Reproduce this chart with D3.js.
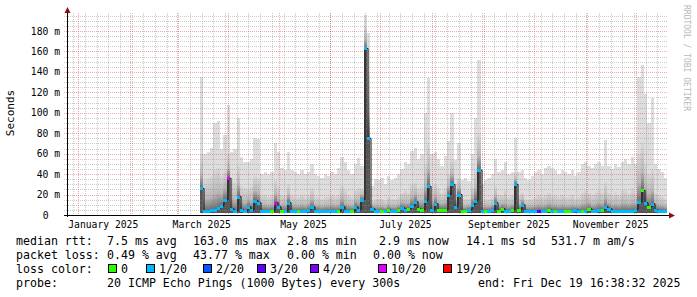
<!DOCTYPE html>
<html>
<head>
<meta charset="utf-8">
<script src="https://cdn.jsdelivr.net/npm/d3@7"></script>
<style>
body { margin: 0; background: #fff; }
svg text { font-family: "DejaVu Sans Mono", monospace; }
</style>
</head>
<body>
<svg width="697" height="297"></svg>
<script>
// smokeping style graph, last 360 days, one column = 2 days
const firstDay = new Date(Date.UTC(2025, 2, 15));
const stepDays = 2;

// median rtt (ms)
const med = [
  26,4,4,5,5,7,9,15,36,6,
  4,18,5,4,8,5,14,12,4,4,
  4,4,12,8,4,4,12,4,4,4,
  4,4,5,8,4,4,4,4,4,4,
  4,4,8,4,4,4,8,5,15,163,
  75,6,4,4,4,4,5,4,4,5,
  7,5,6,9,13,6,5,14,28,5,
  11,5,5,5,20,30,8,20,4,4,
  5,10,14,44,4,4,4,5,12,4,
  6,4,4,5,30,5,10,4,4,4,
  4,4,4,4,5,4,4,4,4,4,
  4,4,5,4,4,4,6,4,4,5,
  5,8,6,4,4,4,4,4,4,4,
  5,13,24,12,8,11,5,4,4,4
];
// upper edge of the dense smoke (ms)
const dense = [
  60,34,36,38,44,46,38,42,60,34,
  32,48,28,26,26,28,38,36,20,20,
  18,20,34,28,20,20,30,20,18,18,
  20,18,20,26,18,18,16,18,18,20,
  18,20,28,24,20,18,24,26,26,185,
  140,14,16,16,16,14,18,16,16,18,
  22,24,22,30,32,26,28,50,70,28,
  30,26,22,26,40,55,26,36,16,16,
  16,28,45,80,14,16,16,18,28,20,
  20,24,18,20,42,20,22,16,15,16,
  18,20,18,20,22,20,20,18,20,18,
  18,20,16,18,22,24,22,20,22,24,
  22,32,22,20,22,20,24,24,22,26,
  22,60,70,50,40,45,22,20,18,16
];
// slowest ping (ms)
const maxPing = [
  135,60,62,66,90,92,65,78,108,62,
  65,95,57,52,52,55,75,74,40,42,
  40,42,70,62,46,44,62,44,42,40,
  44,40,42,50,40,38,36,40,38,42,
  40,46,57,52,44,40,50,56,48,196,
  178,28,35,34,36,30,38,34,36,40,
  45,52,50,63,66,55,60,100,134,60,
  62,55,48,58,72,100,54,70,34,36,
  33,60,95,152,30,34,36,40,55,42,
  44,52,40,42,75,42,44,36,34,38,
  42,44,40,46,48,46,44,40,44,42,
  40,44,38,42,50,52,48,46,50,52,
  48,73,48,45,50,47,52,55,50,57,
  50,135,147,118,90,114,50,45,42,36
];
const minPing = 2;
// index into lossLabels
const loss = [
  1,1,1,1,1,1,1,1,5,1,
  1,1,1,1,1,1,1,1,1,1,
  1,0,5,1,0,1,1,1,1,0,
  1,1,1,1,1,1,1,1,1,1,
  1,0,1,1,1,0,1,1,1,1,
  1,1,1,1,0,1,0,1,1,0,
  1,1,0,1,1,0,0,1,1,1,
  1,0,0,0,1,1,1,1,0,0,
  1,1,1,1,1,0,1,1,1,0,
  0,1,1,0,1,0,1,1,1,1,
  1,3,1,1,0,1,0,1,1,0,
  0,1,1,1,0,1,0,1,1,1,
  0,1,1,1,1,1,1,1,1,1,
  1,1,0,1,0,1,1,1,1,1
];

const lossLabels = ["0", "1/20", "2/20", "3/20", "4/20", "10/20", "19/20"];
const lossColors = ["#26ff00", "#00b8ff", "#0059ff", "#5e00ff", "#7e00ff", "#dd00ff", "#ff0000"];

const rttStats = ["7.5 ms avg", "163.0 ms max", "2.8 ms min", "2.9 ms now", "14.1 ms sd", "531.7 m am/s"];
const lossStats = ["0.49 % avg", "43.77 % max", "0.00 % min", "0.00 % now"];
const probeText = "20 ICMP Echo Pings (1000 Bytes) every 300s";
const endText = "end: Fri Dec 19 16:38:32 2025";

const yTicks = d3.range(0, 181, 20);

const endTime = new Date(Date.UTC(2025, 11, 19, 16, 38, 32));
const startTime = d3.utcDay.offset(endTime, -360);

const svg = d3.select("svg");
const x = d3.scaleUtc().domain([startTime, endTime]).range([66, 667]);
const y = d3.scaleLinear().domain([0, 180]).range([215, 31]);
const plotTop = 13, plotRight = 667;

const days = med.map((v, i) => d3.utcDay.offset(firstDay, i * stepDays));
const colX = i => Math.round(x(days[i]));
const colW = i => Math.min(plotRight, Math.round(x(d3.utcDay.offset(days[i], stepDays)))) - colX(i);

const defs = svg.append("defs");
const grad = defs.append("linearGradient").attr("id", "smoke")
  .attr("x1", 0).attr("y1", 0).attr("x2", 0).attr("y2", 1);
grad.append("stop").attr("offset", "0%").attr("stop-color", "#d6d6d6");
grad.append("stop").attr("offset", "60%").attr("stop-color", "#b8b8b8");
grad.append("stop").attr("offset", "100%").attr("stop-color", "#6a6a6a");

// smoke
const smoke = svg.append("g").attr("shape-rendering", "crispEdges");
smoke.selectAll(".light").data(med).enter().append("rect")
  .attr("x", (d, i) => colX(i)).attr("width", (d, i) => colW(i))
  .attr("y", (d, i) => y(maxPing[i])).attr("height", (d, i) => y(minPing) - y(maxPing[i]))
  .attr("fill", "#dddddd");
smoke.selectAll(".dense").data(med).enter().append("rect")
  .attr("x", (d, i) => colX(i)).attr("width", (d, i) => colW(i))
  .attr("y", (d, i) => y(dense[i])).attr("height", (d, i) => y(d) - y(dense[i]))
  .attr("fill", "url(#smoke)");
smoke.selectAll(".low").data(med).enter().append("rect")
  .attr("x", (d, i) => colX(i)).attr("width", (d, i) => colW(i))
  .attr("y", d => y(d)).attr("height", d => Math.max(0, y(minPing) - y(d)))
  .attr("fill", "#555");

// grid
const grid = svg.append("g").attr("stroke-dasharray", "1,1").attr("fill", "none");
const weeks = d3.utcSunday.range(startTime, endTime);
const months = d3.utcMonth.range(startTime, endTime);
grid.selectAll(".wk").data(weeks).enter().append("line")
  .attr("x1", d => Math.round(x(d)) + 0.5).attr("x2", d => Math.round(x(d)) + 0.5)
  .attr("y1", plotTop).attr("y2", 217)
  .attr("stroke", "rgba(140,140,140,0.45)");
d3.range(5, 196, 5).filter(v => v % 20 !== 0).forEach(v => {
  grid.append("line").attr("x1", 64).attr("x2", plotRight)
    .attr("y1", Math.round(y(v)) + 0.5).attr("y2", Math.round(y(v)) + 0.5)
    .attr("stroke", "rgba(140,140,140,0.45)");
});
grid.selectAll(".mo").data(months).enter().append("line")
  .attr("x1", d => Math.round(x(d)) + 0.5).attr("x2", d => Math.round(x(d)) + 0.5)
  .attr("y1", plotTop).attr("y2", 217)
  .attr("stroke", "rgba(235,60,60,0.45)");
yTicks.filter(v => v > 0).forEach(v => {
  grid.append("line").attr("x1", 64).attr("x2", plotRight)
    .attr("y1", Math.round(y(v)) + 0.5).attr("y2", Math.round(y(v)) + 0.5)
    .attr("stroke", "rgba(235,60,60,0.45)");
});

// median line coloured by loss
const pts = med.map((v, i) => [colX(i) + 1, y(v)]);
pts.push([colX(med.length - 1) + colW(med.length - 1), y(med[med.length - 1])]);
svg.append("path").attr("d", d3.line().curve(d3.curveStepAfter)(pts))
  .attr("fill", "none").attr("stroke", "#111").attr("stroke-width", 1);
svg.append("g").attr("shape-rendering", "crispEdges")
  .selectAll("rect").data(med).enter().append("rect")
  .attr("x", (d, i) => colX(i)).attr("width", (d, i) => colW(i))
  .attr("y", d => Math.round(y(d)) - 1).attr("height", 3)
  .attr("fill", (d, i) => lossColors[loss[i]]);

// axes
svg.append("line").attr("x1", 67.5).attr("x2", 67.5).attr("y1", 217).attr("y2", 11)
  .attr("stroke", "#000");
svg.append("line").attr("x1", 64).attr("x2", 670).attr("y1", 215.5).attr("y2", 215.5)
  .attr("stroke", "#000");
svg.append("path").attr("d", "M67.5,7 L64.5,13 L70.5,13 Z").attr("fill", "#8b1010");
svg.append("path").attr("d", "M675,215.5 L669,212.5 L669,218.5 Z").attr("fill", "#8b1010");

svg.append("g").selectAll("text").data(yTicks).enter().append("text")
  .attr("x", d => d === 0 ? 48.5 : 60).attr("y", d => y(d) + 3.5)
  .attr("text-anchor", "end").attr("font-size", "9.7px").attr("fill", "#000")
  .text(d => d === 0 ? "0" : d + " m");

const labelMonths = d3.utcMonth.every(2).range(startTime, endTime);
svg.append("g").selectAll("text").data(labelMonths).enter().append("text")
  .attr("x", d => x(d3.utcDay.offset(d, 15))).attr("y", 228)
  .attr("text-anchor", "middle").attr("font-size", "9.7px").attr("fill", "#000")
  .text(d3.utcFormat("%B %Y"));

svg.append("text").attr("transform", "translate(14,113) rotate(-90)")
  .attr("text-anchor", "middle").attr("font-size", "11px").text("Seconds");

svg.append("text").attr("transform", "translate(684,5) rotate(90)")
  .attr("font-size", "8px").attr("fill", "#b8b8b8").text("RRDTOOL / TOBI OETIKER");

// legend
const leg = svg.append("g").attr("font-size", "11.6px").attr("fill", "#000");
const row = (txt, px, py) => leg.append("text").attr("x", px).attr("y", py).text(txt);
row("median rtt:", 16, 245);
[107, 193, 287, 379, 466, 551].forEach((px, i) => row(rttStats[i], px, 245));
row("packet loss:", 16, 259);
[107, 193, 287, 373].forEach((px, i) => row(lossStats[i], px, 259));
row("loss color:", 16, 273);
const swatchX = [108, 146, 203, 257, 310, 378, 443];
lossLabels.forEach((l, i) => {
  leg.append("rect").attr("x", swatchX[i] + 0.5).attr("y", 264.5).attr("width", 8).attr("height", 8)
    .attr("fill", lossColors[i]).attr("stroke", "#000").attr("stroke-width", 1);
  row(l, swatchX[i] + 13, 273);
});
row("probe:", 16, 287);
row(probeText, 107, 287);
row(endText, 478, 287);
</script>
</body>
</html>
